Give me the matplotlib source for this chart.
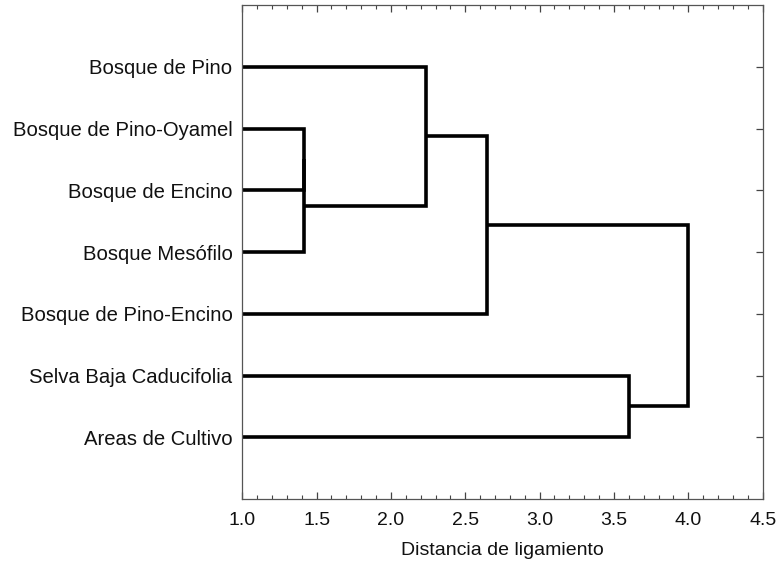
import matplotlib
matplotlib.use('Agg')
import matplotlib.pyplot as plt
from matplotlib.ticker import MultipleLocator

plt.rcParams['font.family'] = ['Liberation Sans', 'DejaVu Sans']

# Leaves, top to bottom
labels = ['Bosque de Pino', 'Bosque de Pino-Oyamel', 'Bosque de Encino',
          'Bosque Mesófilo', 'Bosque de Pino-Encino',
          'Selva Baja Caducifolia', 'Areas de Cultivo']

# Merges: (child a, child b, linkage distance); clusters 7.. are created in order
merge_a = [1, 7, 0, 9, 5, 10]
merge_b = [2, 3, 8, 4, 6, 11]
merge_h = [1.415, 1.415, 2.236, 2.647, 3.602, 3.997]

fig = plt.figure(figsize=(7.79, 5.69), dpi=100)
ax = fig.add_axes([0.311, 0.123, 0.668, 0.868])

# position (y) and height (x) of every node
node_y = [i + 1 for i in range(len(labels))]
node_x = [1.0 for i in range(len(labels))]

for a, b, h in zip(merge_a, merge_b, merge_h):
    ax.plot([node_x[a], h, h, node_x[b]],
            [node_y[a], node_y[a], node_y[b], node_y[b]],
            color='black', lw=2.6, solid_joinstyle='miter', solid_capstyle='butt')
    node_y.append((node_y[a] + node_y[b]) / 2.0)
    node_x.append(h)

ax.set_xlim(1.0, 4.5)
ax.set_ylim(8, 0)
ax.xaxis.set_major_locator(MultipleLocator(0.5))
ax.xaxis.set_minor_locator(MultipleLocator(0.1))
ax.xaxis.set_major_formatter(plt.FormatStrFormatter('%.1f'))
ax.set_yticks(range(1, len(labels) + 1))
ax.set_yticklabels(labels)

ax.tick_params(axis='both', which='both', direction='in', top=True, right=True,
               color='#444444', labelcolor='#111111')
ax.tick_params(axis='y', labelsize=14.6, pad=7)
ax.tick_params(axis='x', labelsize=14, pad=9)
ax.tick_params(axis='both', which='major', length=5, width=0.9)
ax.tick_params(axis='both', which='minor', length=3, width=0.8)

for s in ax.spines.values():
    s.set_color('#555555')
    s.set_linewidth(0.9)

ax.set_xlabel('Distancia de ligamiento', fontsize=14, color='#111111', labelpad=10)

plt.savefig('out.png', dpi=100)
